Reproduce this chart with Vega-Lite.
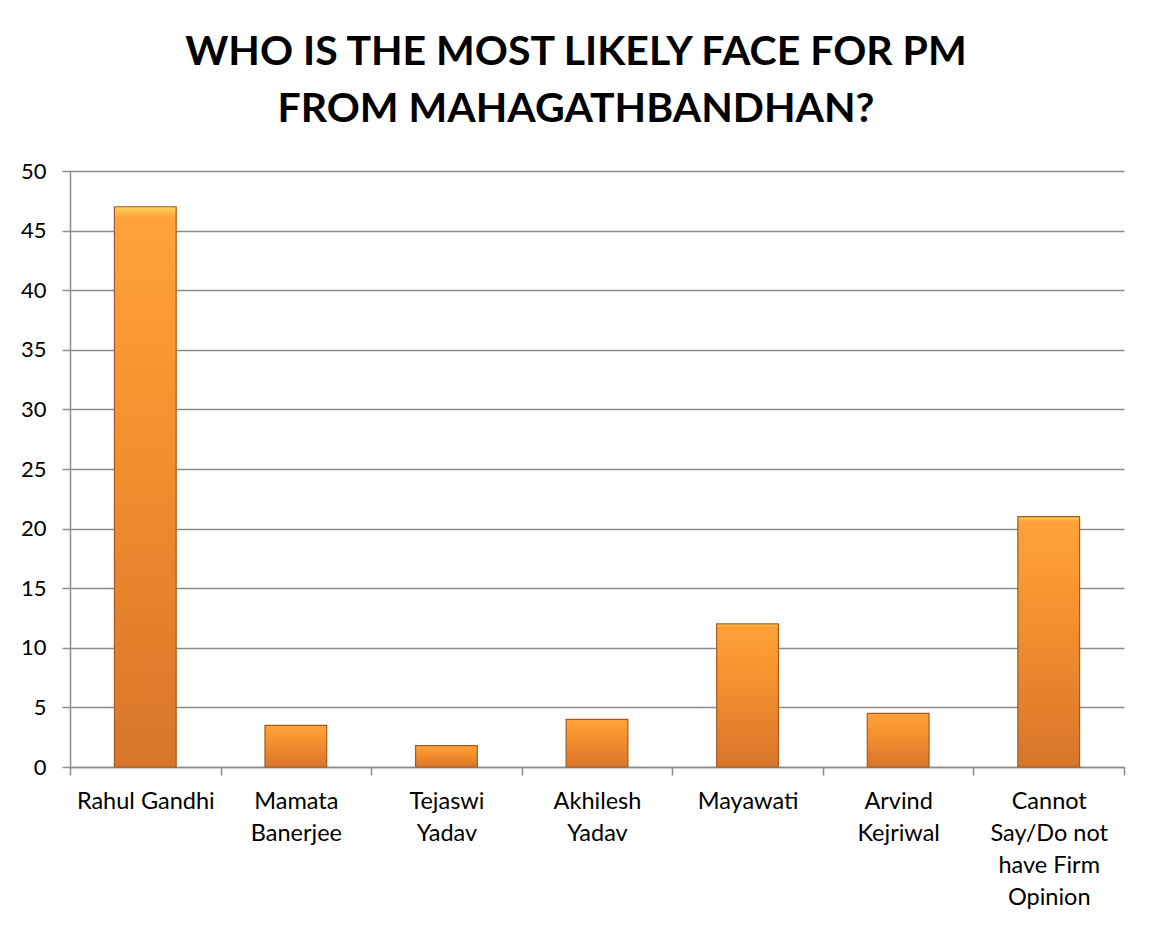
{
  "$schema": "https://vega.github.io/schema/vega-lite/v6.json",
  "autosize": "none",
  "width": 1054,
  "height": 596,
  "padding": {"left": 70, "top": 171, "right": 28, "bottom": 161},
  "background": "#FFFFFF",
  "title": {
    "text": ["WHO IS THE MOST LIKELY FACE FOR PM", "FROM MAHAGATHBANDHAN?"],
    "font": "Lato",
    "fontSize": 41,
    "fontWeight": "bold",
    "color": "#000000",
    "lineHeight": 57,
    "anchor": "middle",
    "frame": "group",
    "dx": -21,
    "offset": 29
  },
  "data": {
    "values": [
      {"candidate": "Rahul Gandhi", "value": 47},
      {"candidate": "Mamata Banerjee", "value": 3.5},
      {"candidate": "Tejaswi Yadav", "value": 1.8},
      {"candidate": "Akhilesh Yadav", "value": 4},
      {"candidate": "Mayawati", "value": 12},
      {"candidate": "Arvind Kejriwal", "value": 4.5},
      {"candidate": "Cannot Say/Do not have Firm Opinion", "value": 21}
    ]
  },
  "mark": {
    "type": "bar",
    "width": {"band": 0.41},
    "fill": {
      "gradient": "linear",
      "x1": 0, "y1": 0, "x2": 0, "y2": 1,
      "stops": [
        {"offset": 0, "color": "#FFD35A"},
        {"offset": 0.02, "color": "#FFA23A"},
        {"offset": 0.3, "color": "#F9952F"},
        {"offset": 1, "color": "#D9752A"}
      ]
    },
    "stroke": "#A8581C",
    "strokeWidth": 1.2
  },
  "encoding": {
    "x": {
      "field": "candidate",
      "type": "nominal",
      "sort": null,
      "scale": {"paddingInner": 0, "paddingOuter": 0},
      "axis": {
        "title": null,
        "labelAngle": 0,
        "labelFont": "Lato",
        "labelFontSize": 23.5,
        "labelColor": "#000000",
        "labelLineHeight": 32,
        "labelPadding": 14,
        "labelBaseline": "top",
        "labelLimit": 200,
        "labelExpr": "!datum.value ? '' : datum.value == 'Rahul Gandhi' || datum.value == 'Mayawati' ? datum.value : datum.value == 'Cannot Say/Do not have Firm Opinion' ? ['Cannot', 'Say/Do not', 'have Firm', 'Opinion'] : split(datum.value, ' ')",
        "tickBand": "extent",
        "tickSize": 8,
        "tickColor": "#8C8C8C",
        "tickWidth": 1.5,
        "domainColor": "#8C8C8C",
        "domainWidth": 1.5,
        "grid": false
      }
    },
    "y": {
      "field": "value",
      "type": "quantitative",
      "scale": {"domain": [0, 50], "nice": false},
      "axis": {
        "title": null,
        "values": [0, 5, 10, 15, 20, 25, 30, 35, 40, 45, 50],
        "labelFont": "Lato",
        "labelFontSize": 22,
        "labelColor": "#000000",
        "labelPadding": 16,
        "tickSize": 8,
        "tickColor": "#8C8C8C",
        "tickWidth": 1.5,
        "domainColor": "#8C8C8C",
        "domainWidth": 1.5,
        "grid": true,
        "gridColor": "#8C8C8C",
        "gridWidth": 1.5
      }
    }
  },
  "config": {
    "view": {"stroke": null}
  }
}
